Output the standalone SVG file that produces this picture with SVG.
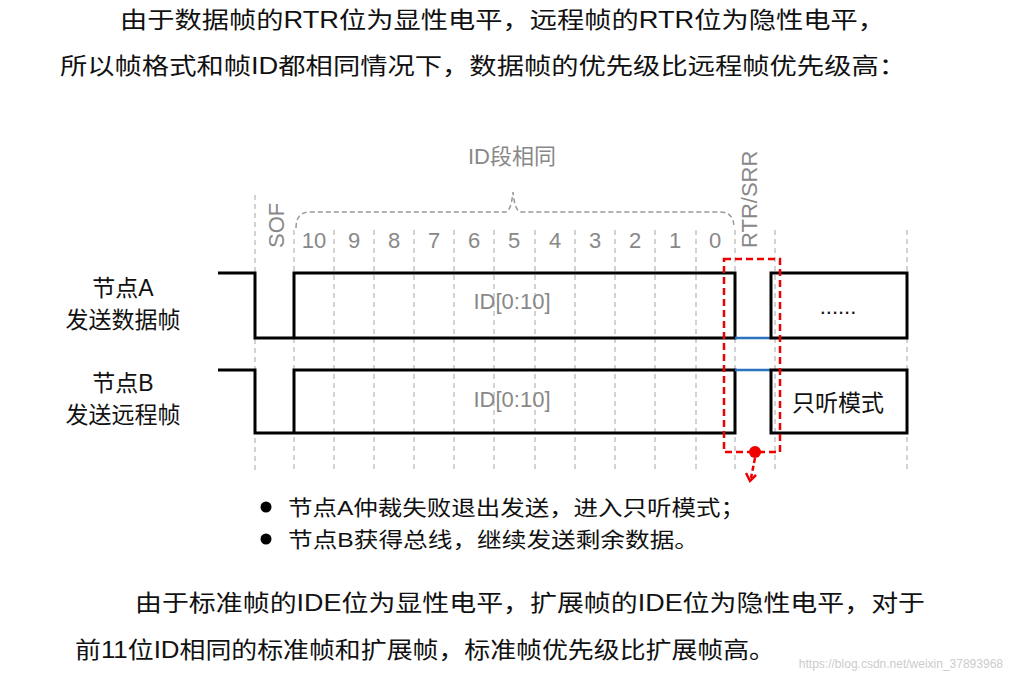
<svg xmlns="http://www.w3.org/2000/svg" width="1011" height="682" viewBox="0 0 1011 682">
<style>
.t{font-family:"Liberation Sans","Noto Sans CJK SC",sans-serif;fill:#111}
.g{stroke:#bbb;stroke-width:1.3;stroke-dasharray:5 4;fill:none}
.w{stroke:#000;stroke-width:3;fill:none}
.l{font-family:"Liberation Sans","Noto Sans CJK SC",sans-serif;fill:#888;font-size:22px}
</style>
<rect width="1011" height="682" fill="#fff"/>
<text class="t" x="120" y="28" font-size="23" textLength="765" lengthAdjust="spacingAndGlyphs">由于数据帧的RTR位为显性电平，远程帧的RTR位为隐性电平，</text>
<text class="t" x="60" y="74" font-size="23" textLength="846" lengthAdjust="spacingAndGlyphs">所以帧格式和帧ID都相同情况下，数据帧的优先级比远程帧优先级高：</text>
<g id="grid">
<path class="g" d="M255 195V470M294 230V470M334 230V470M374 230V470M414 230V470M454 230V470M494 230V470M535 230V470M575 230V470M615 230V470M655 230V470M696 230V470M735 230V470M775 230V470M907 230V470"/>
</g>
<g id="brace"><path d="M296 228Q296 212 310 212H505Q511 212 513 192Q515 212 521 212H720Q734 212 734 228" stroke="#999" stroke-width="1.5" stroke-dasharray="5 3" fill="none"/>
<text class="l" x="512" y="164" text-anchor="middle">ID段相同</text></g>
<g id="bits">
<text class="l" x="284" y="248" transform="rotate(-90 284 248)">SOF</text>
<text class="l" x="757" y="248" transform="rotate(-90 757 248)">RTR/SRR</text>
<g text-anchor="middle"><text class="l" x="314" y="248">10</text><text class="l" x="354" y="248">9</text><text class="l" x="394" y="248">8</text><text class="l" x="434" y="248">7</text><text class="l" x="474" y="248">6</text><text class="l" x="514" y="248">5</text><text class="l" x="555" y="248">4</text><text class="l" x="595" y="248">3</text><text class="l" x="635" y="248">2</text><text class="l" x="675" y="248">1</text><text class="l" x="715" y="248">0</text></g>
</g>
<g id="nodeA">
<text class="t" x="123" y="296" font-size="23" text-anchor="middle">节点A</text>
<text class="t" x="123" y="328" font-size="23" text-anchor="middle">发送数据帧</text>
<path class="w" d="M218 273H255V338H294V273H735V338H294"/>
<line x1="735" y1="338" x2="771" y2="338" stroke="#2a72c0" stroke-width="2.5"/>
<rect x="771" y="273" width="136" height="65" class="w" fill="#fff"/>
<text class="l" x="512" y="309" text-anchor="middle">ID[0:10]</text>
<text class="t" x="838" y="314" font-size="22" text-anchor="middle">......</text>
</g>
<g id="nodeB">
<text class="t" x="123" y="391" font-size="23" text-anchor="middle">节点B</text>
<text class="t" x="123" y="423" font-size="23" text-anchor="middle">发送远程帧</text>
<path class="w" d="M218 370H255V433H294V370H735V433H294"/>
<line x1="735" y1="370" x2="771" y2="370" stroke="#2a72c0" stroke-width="2.5"/>
<rect x="771" y="370" width="136" height="63" class="w" fill="#efefef"/>
<text class="l" x="512" y="407" text-anchor="middle">ID[0:10]</text>
<text class="t" x="838" y="411" font-size="23" text-anchor="middle">只听模式</text>
</g>
<g id="connectors">
<rect x="724" y="259" width="56" height="193" fill="none" stroke="#e00" stroke-width="2.5" stroke-dasharray="7 4"/>
<circle cx="755" cy="452" r="6" fill="#e00"/>
<path d="M755 458L751 478" stroke="#e00" stroke-width="2.5" stroke-dasharray="5 3"/>
<path d="M746 473L750 481L756 475" stroke="#e00" stroke-width="2.5" fill="none"/>
</g>
<g id="notes">
<circle cx="266" cy="507" r="5.5" fill="#000"/><text class="t" x="288" y="515" font-size="21" textLength="457" lengthAdjust="spacingAndGlyphs">节点A仲裁失败退出发送，进入只听模式；</text>
<circle cx="266" cy="539" r="5.5" fill="#000"/><text class="t" x="288" y="547" font-size="21" textLength="411" lengthAdjust="spacingAndGlyphs">节点B获得总线，继续发送剩余数据。</text>
</g>
<text class="t" x="135" y="611" font-size="23" textLength="790" lengthAdjust="spacingAndGlyphs">由于标准帧的IDE位为显性电平，扩展帧的IDE位为隐性电平，对于</text>
<text class="t" x="75" y="658" font-size="23" textLength="700" lengthAdjust="spacingAndGlyphs">前11位ID相同的标准帧和扩展帧，标准帧优先级比扩展帧高。</text>
<text x="1003" y="668" font-size="12" text-anchor="end" fill="#ccc" font-family="Liberation Sans,sans-serif">https://blog.csdn.net/weixin_37893968</text>
</svg>
